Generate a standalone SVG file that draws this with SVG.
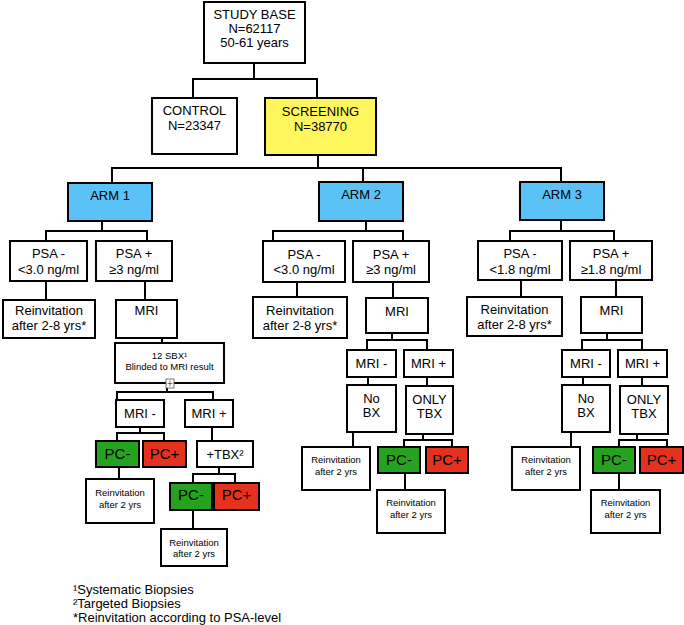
<svg xmlns="http://www.w3.org/2000/svg" width="684" height="625" viewBox="0 0 684 625">
<style>
rect.b{fill:#fff;stroke:#000;stroke-width:2}
rect.y{fill:#FFF55C;stroke:#000;stroke-width:2}
rect.a{fill:#5BC2F7;stroke:#000;stroke-width:2}
rect.g{fill:#25A31F;stroke:#000;stroke-width:2}
rect.r{fill:#E5321F;stroke:#000;stroke-width:2}
text{font-family:"Liberation Sans",Arial,Helvetica,sans-serif;font-size:13px;fill:#000;text-anchor:middle}
text.s{font-size:9.5px}
text.p{font-size:15px}
text.f{text-anchor:start;font-size:13px}
#conn path{fill:none;stroke:#000;stroke-width:2}
</style>
<rect width="684" height="625" fill="#fff"/>
<g id="conn">
<path d="M193,98V79H317V98 M254,63V79"/>
<path d="M112,183V168H561V182 M363,168V182 M318,155V168"/>
<path d="M46,241V231H147V241 M102,221V231 M46,281V300 M145,281V300 M162,338V343"/>
<path d="M167,383V392 M117,400V392H213V400 M140,427V433 M117,441V433H164V441 M212,427V441 M119,467V479 M219,467V474 M193,483V474H235V483 M193,510V529"/>
<path d="M366,221V231 M273,241V231H403V241 M297,282V297 M393,282V298 M392,333V340 M367,350V340H427V350 M368,377V385 M427,377V386 M353,432V447 M423,434V440 M404,447V440H452V447 M405,473V490"/>
<path d="M561,220V231 M510,241V231H614V241 M521,280V297 M616,280V297 M607,333V340 M582,350V340H642V350 M583,377V385 M642,377V386 M571,432V447 M637,434V440 M619,447V440H667V447 M619,473V490"/>
</g>
<g id="study"><rect class="b" x="204" y="2" width="101" height="61"/><text x="254.5" y="19">STUDY BASE</text><text x="254.5" y="33">N=62117</text><text x="254.5" y="47">50-61 years</text></g>
<g id="control"><rect class="b" x="152" y="98" width="85" height="56"/><text x="194.5" y="115">CONTROL</text><text x="194.5" y="130">N=23347</text></g>
<g id="screening"><rect class="y" x="265" y="98" width="111" height="57"/><text x="320.5" y="116">SCREENING</text><text x="320.5" y="131">N=38770</text></g>
<g id="arm1"><rect class="a" x="68" y="183" width="84" height="38"/><text x="110" y="200">ARM 1</text></g>
<g id="arm2"><rect class="a" x="319" y="182" width="84" height="39"/><text x="361" y="199">ARM 2</text></g>
<g id="arm3"><rect class="a" x="520" y="182" width="84" height="38"/><text x="562" y="199">ARM 3</text></g>
<g id="psa1m"><rect class="b" x="10" y="241" width="77" height="40"/><text x="48.5" y="258">PSA -</text><text x="48.5" y="274">&lt;3.0 ng/ml</text></g>
<g id="psa1p"><rect class="b" x="96" y="241" width="76" height="40"/><text x="134" y="258">PSA +</text><text x="134" y="274">≥3 ng/ml</text></g>
<g id="reinv1"><rect class="b" x="3" y="300" width="92" height="38"/><text x="49" y="315">Reinvitation</text><text x="49" y="330">after 2-8 yrs*</text></g>
<g id="mri1"><rect class="b" x="116" y="300" width="61" height="38"/><text x="146.5" y="315">MRI</text></g>
<g id="sbx"><rect class="b" x="115" y="343" width="109" height="40"/><text class="s" x="169.5" y="359">12 SBX¹</text><text class="s" x="169.5" y="370">Blinded to MRI result</text></g>
<g id="icon"><rect x="166" y="379" width="8" height="9" fill="#fff" stroke="#555" stroke-width="0.8"/><path d="M170,380.5V386.5 M167.5,383.5H172.5" stroke="#555" stroke-width="0.8" fill="none"/></g>
<g id="mri1m"><rect class="b" x="116" y="400" width="48" height="27"/><text x="140" y="418">MRI -</text></g>
<g id="mri1p"><rect class="b" x="185" y="400" width="48" height="27"/><text x="209" y="418">MRI +</text></g>
<g id="pc1m"><rect class="g" x="96" y="441" width="43" height="26"/><text class="p" x="117.5" y="459">PC-</text></g>
<g id="pc1p"><rect class="r" x="143" y="441" width="43" height="26"/><text class="p" x="164.5" y="459">PC+</text></g>
<g id="tbx1"><rect class="b" x="197" y="441" width="56" height="26"/><text x="225" y="458.5">+TBX²</text></g>
<g id="reinv1b"><rect class="b" x="86" y="479" width="68" height="44"/><text class="s" x="120" y="495.5">Reinvitation</text><text class="s" x="120" y="507.5">after 2 yrs</text></g>
<g id="pc1m2"><rect class="g" x="170" y="483" width="42" height="27"/><text class="p" x="191" y="500">PC-</text></g>
<g id="pc1p2"><rect class="r" x="214" y="483" width="45" height="27"/><text class="p" x="236.5" y="500">PC+</text></g>
<g id="reinv1c"><rect class="b" x="161" y="529" width="66" height="37"/><text class="s" x="194" y="545.5">Reinvitation</text><text class="s" x="194" y="556.5">after 2 yrs</text></g>
<g id="psa2m"><rect class="b" x="263" y="241" width="82" height="41"/><text x="304" y="259">PSA -</text><text x="304" y="274">&lt;3.0 ng/ml</text></g>
<g id="psa2p"><rect class="b" x="353" y="241" width="76" height="41"/><text x="391" y="259">PSA +</text><text x="391" y="274">≥3 ng/ml</text></g>
<g id="reinv2"><rect class="b" x="253" y="297" width="94" height="41"/><text x="300" y="315">Reinvitation</text><text x="300" y="330">after 2-8 yrs*</text></g>
<g id="mri2"><rect class="b" x="366" y="298" width="62" height="35"/><text x="397" y="316">MRI</text></g>
<g id="mri2m"><rect class="b" x="347" y="350" width="49" height="27"/><text x="371.5" y="368">MRI -</text></g>
<g id="mri2p"><rect class="b" x="404" y="350" width="49" height="27"/><text x="428.5" y="368">MRI +</text></g>
<g id="nobx2"><rect class="b" x="347" y="385" width="49" height="47"/><text x="371.5" y="403">No</text><text x="371.5" y="417">BX</text></g>
<g id="tbx2"><rect class="b" x="406" y="386" width="47" height="48"/><text x="429.5" y="404">ONLY</text><text x="429.5" y="418">TBX</text></g>
<g id="reinv2b"><rect class="b" x="302" y="447" width="68" height="43"/><text class="s" x="336" y="462.5">Reinvitation</text><text class="s" x="336" y="474.5">after 2 yrs</text></g>
<g id="pc2m"><rect class="g" x="378" y="447" width="42" height="26"/><text class="p" x="399" y="465">PC-</text></g>
<g id="pc2p"><rect class="r" x="426" y="447" width="42" height="26"/><text class="p" x="447" y="465">PC+</text></g>
<g id="reinv2c"><rect class="b" x="377" y="490" width="68" height="43"/><text class="s" x="411" y="505.5">Reinvitation</text><text class="s" x="411" y="517.5">after 2 yrs</text></g>
<g id="psa3m"><rect class="b" x="478" y="241" width="84" height="39"/><text x="520" y="258">PSA -</text><text x="520" y="274">&lt;1.8 ng/ml</text></g>
<g id="psa3p"><rect class="b" x="570" y="241" width="82" height="39"/><text x="611" y="258">PSA +</text><text x="611" y="274">≥1.8 ng/ml</text></g>
<g id="reinv3"><rect class="b" x="467" y="297" width="95" height="39"/><text x="514.5" y="314">Reinvitation</text><text x="514.5" y="329">after 2-8 yrs*</text></g>
<g id="mri3"><rect class="b" x="581" y="297" width="61" height="36"/><text x="611.5" y="315">MRI</text></g>
<g id="mri3m"><rect class="b" x="562" y="350" width="48" height="27"/><text x="586" y="368">MRI -</text></g>
<g id="mri3p"><rect class="b" x="618" y="350" width="49" height="27"/><text x="642.5" y="368">MRI +</text></g>
<g id="nobx3"><rect class="b" x="562" y="385" width="48" height="47"/><text x="586" y="403">No</text><text x="586" y="417">BX</text></g>
<g id="tbx3"><rect class="b" x="620" y="386" width="48" height="48"/><text x="644" y="404">ONLY</text><text x="644" y="418">TBX</text></g>
<g id="reinv3b"><rect class="b" x="512" y="447" width="68" height="43"/><text class="s" x="546" y="462.5">Reinvitation</text><text class="s" x="546" y="474.5">after 2 yrs</text></g>
<g id="pc3m"><rect class="g" x="593" y="447" width="42" height="26"/><text class="p" x="614" y="465">PC-</text></g>
<g id="pc3p"><rect class="r" x="640" y="447" width="43" height="26"/><text class="p" x="661.5" y="465">PC+</text></g>
<g id="reinv3c"><rect class="b" x="591" y="490" width="69" height="43"/><text class="s" x="625.5" y="505.5">Reinvitation</text><text class="s" x="625.5" y="517.5">after 2 yrs</text></g>
<g id="footnotes"><text class="f" x="73" y="593.5">¹Systematic Biopsies</text><text class="f" x="73" y="607.5">²Targeted Biopsies</text><text class="f" x="73" y="621.5">*Reinvitation according to PSA-level</text></g>
</svg>
